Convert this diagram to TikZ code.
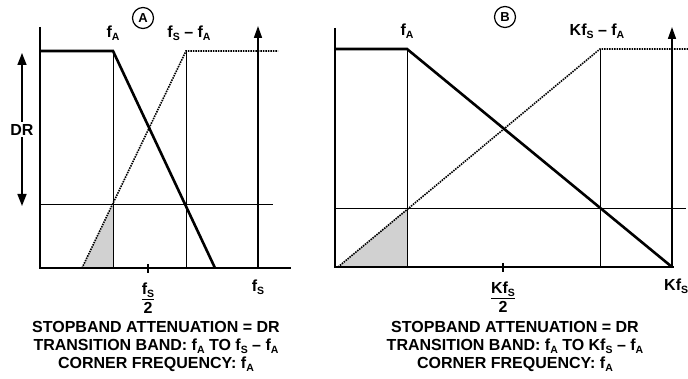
\documentclass[tikz,border=0pt]{standalone}
\usepackage{fontspec}
\setmainfont{Liberation Sans}
\usepackage{tikz}
\usetikzlibrary{positioning}
\usetikzlibrary{arrows.meta}

\newcommand{\sub}[1]{\raisebox{-3pt}{\fontsize{10.5}{11}\selectfont #1}}
\newcommand{\halfof}[1]{{\setlength{\arrayrulewidth}{1.2pt}\begin{tabular}{@{}c@{}}#1\\[-1pt]\hline\rule{0pt}{13pt}2\end{tabular}}}

\begin{document}
\begin{tikzpicture}[x=1pt, y=-1pt,
    font=\fontsize{16}{19}\selectfont\bfseries,
    axis/.style={line width=1.6pt},
    resp/.style={line width=2.6pt, line join=miter},
    imgline/.style={line width=1.6pt, dash pattern=on 1.5pt off 1pt},
    guide/.style={line width=1pt},
    tip/.style={-{Triangle[length=12pt,width=8pt]}},
    badge/.style={circle, draw, line width=1.2pt, inner sep=0pt, minimum size=21pt, font=\fontsize{13}{13}\selectfont\bfseries},
    stop/.style={fill=black!18},
    lbl/.style={inner sep=0pt},
    caption/.style={inner sep=0pt, align=center, font=\fontsize{16}{18}\selectfont\bfseries}]

    \useasboundingbox (0,0) rectangle (688,379);

    % panel A
    \coordinate (oA) at (40,268);
    \coordinate (yA) at (40,27);
    \coordinate (xA) at (291,268);
    \coordinate (pA) at (40,51);
    \coordinate (cA) at (113,51);
    \coordinate (cbA) at (113,268);
    \coordinate (sA) at (215,268);
    \coordinate (iA) at (82,268);
    \coordinate (itA) at (186,51);
    \coordinate (ibA) at (186,268);
    \coordinate (ieA) at (278,51);
    \coordinate (dlA) at (40,205);
    \coordinate (drA) at (273,205);
    \coordinate (dcA) at (113,205);
    \coordinate (fsA) at (258,268);
    \coordinate (fstA) at (258,26);
    \coordinate (htA) at (148,264);
    \coordinate (hbA) at (148,273);
    \coordinate (drtA) at (22,53);
    \coordinate (drbA) at (22,206);

    \fill[stop] (iA) -- (dcA) -- (cbA) -- cycle;
    \draw[guide] (dlA) -- (drA);
    \draw[guide] (cA) -- (cbA);
    \draw[guide] (itA) -- (ibA);
    \draw[imgline] (iA) -- (itA) -- (ieA);
    \draw[resp] (pA) -- (cA) -- (sA);
    \draw[axis] (yA) -- (oA) -- (xA);
    \draw[axis, tip] (fsA) -- (fstA);
    \draw[axis] (htA) -- (hbA);
    \draw[axis, {Triangle[length=12pt,width=9pt]}-{Triangle[length=12pt,width=9pt]}] (drtA) -- (drbA)
        node[midway, fill=white, inner sep=2pt] (drlbl) {DR};

    \node[badge] (bA) at (143,18) {A};
    \node[lbl, above=10pt of cA] (lcA) {f\sub{A}};
    \node[lbl, above=10pt of itA, xshift=3pt] (litA) {f\sub{S} -- f\sub{A}};
    \node[lbl, below=8pt of hbA] (lhA) {\halfof{f\sub{S}}};
    \node[lbl, below=12pt of fsA] (lfsA) {f\sub{S}};
    \node[caption, anchor=north] (capA) at (156,321)
        {STOPBAND ATTENUATION = DR\\TRANSITION BAND: f\sub{A} TO f\sub{S} -- f\sub{A}\\CORNER FREQUENCY: f\sub{A}};

    % panel B
    \coordinate (oB) at (335,267);
    \coordinate (yB) at (335,28);
    \coordinate (xB) at (674,267);
    \coordinate (pB) at (335,49);
    \coordinate (cB) at (407,49);
    \coordinate (cbB) at (407,267);
    \coordinate (sB) at (672,267);
    \coordinate (iB) at (338,267);
    \coordinate (itB) at (600,49);
    \coordinate (ibB) at (600,267);
    \coordinate (ieB) at (688,49);
    \coordinate (dlB) at (335,209);
    \coordinate (drB) at (686,209);
    \coordinate (dcB) at (407,209);
    \coordinate (fsB) at (672,267);
    \coordinate (fstB) at (672,27);
    \coordinate (htB) at (503,263);
    \coordinate (hbB) at (503,272);

    \fill[stop] (iB) -- (dcB) -- (cbB) -- cycle;
    \draw[guide] (dlB) -- (drB);
    \draw[guide] (cB) -- (cbB);
    \draw[guide] (itB) -- (ibB);
    \draw[imgline] (iB) -- (itB) -- (ieB);
    \draw[resp] (pB) -- (cB) -- (sB);
    \draw[axis] (yB) -- (oB) -- (xB);
    \draw[axis, tip] (fsB) -- (fstB);
    \draw[axis] (htB) -- (hbB);

    \node[badge] (bB) at (505,17) {B};
    \node[lbl, above=10pt of cB] (lcB) {f\sub{A}};
    \node[lbl, above=10pt of itB, xshift=-3pt] (litB) {Kf\sub{S} -- f\sub{A}};
    \node[lbl, below=8pt of hbB] (lhB) {\halfof{Kf\sub{S}}};
    \node[lbl, below=12pt of fsB, anchor=north west, xshift=-8pt] (lfsB) {Kf\sub{S}};
    \node[caption, anchor=north] (capB) at (515,321)
        {STOPBAND ATTENUATION = DR\\TRANSITION BAND: f\sub{A} TO Kf\sub{S} -- f\sub{A}\\CORNER FREQUENCY: f\sub{A}};
\end{tikzpicture}
\end{document}
